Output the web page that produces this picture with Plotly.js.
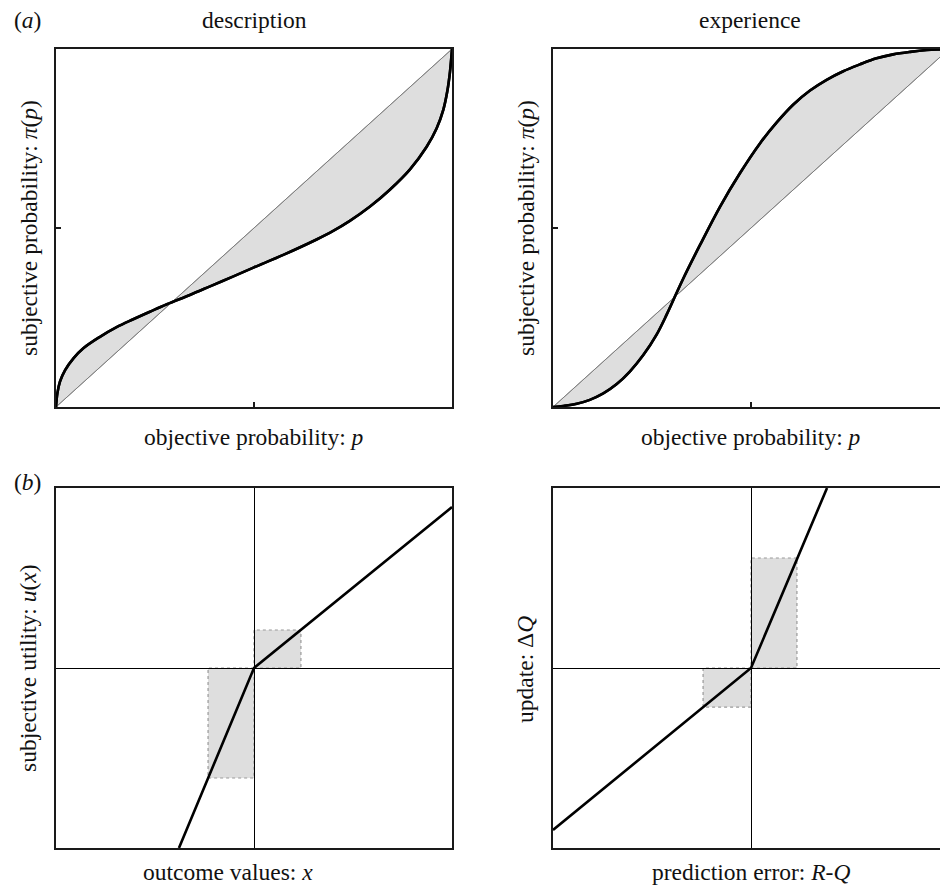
<!DOCTYPE html>
<html>
<head>
<meta charset="utf-8">
<script src="https://cdn.plot.ly/plotly-3.0.1.min.js"></script>
<style>
  html, body { margin: 0; padding: 0; overflow: hidden; background: #fff; }
  #wrap { width: 940px; height: 888px; overflow: hidden; }
  #chart { width: 950px; height: 888px; }
</style>
</head>
<body>
<div id="wrap"><div id="chart"></div></div>
<script>
// ---------- data ----------
const descP = [0, 0.0034, 0.010, 0.023, 0.044, 0.069, 0.111, 0.153, 0.195, 0.237, 0.280, 0.338, 0.389, 0.448, 0.5, 0.574, 0.658, 0.700, 0.742, 0.793, 0.843, 0.894, 0.936, 0.961, 0.978, 0.988, 0.995, 1.0];
const descQ = [0, 0.038, 0.071, 0.103, 0.136, 0.164, 0.196, 0.223, 0.245, 0.266, 0.287, 0.313, 0.337, 0.365, 0.390, 0.425, 0.468, 0.492, 0.520, 0.560, 0.607, 0.664, 0.727, 0.778, 0.830, 0.881, 0.937, 1.0];

const expP = [0, 0.026, 0.060, 0.093, 0.127, 0.161, 0.194, 0.228, 0.262, 0.287, 0.304, 0.329, 0.371, 0.422, 0.472, 0.523, 0.565, 0.607, 0.649, 0.691, 0.733, 0.775, 0.817, 0.859, 0.902, 0.944, 0.977, 1.0];
const expQ = [0, 0.003, 0.009, 0.020, 0.038, 0.064, 0.099, 0.145, 0.203, 0.258, 0.299, 0.359, 0.452, 0.560, 0.653, 0.737, 0.795, 0.845, 0.884, 0.914, 0.938, 0.957, 0.974, 0.985, 0.992, 0.997, 0.999, 1.0];

const diagX = [0, 1];
const diagY = [0, 1];

const utilX = [-0.379, 0, 1];
const utilY = [-1, 0, 0.894];
const utilBoxX = [-0.232, 0.237];   // loss box, gain box (outer x corner)
const utilBoxY = [-0.611, 0.211];   // loss box, gain box (outer y corner)

const updX = [-1, 0, 0.384];
const updY = [-0.9, 0, 1];
const updBoxX = [-0.242, 0.232];
const updBoxY = [-0.217, 0.611];

const probTick = [0.5];

const panelTitles = ['description', 'experience'];
const panelLetters = ['(<i>a</i>)', '(<i>b</i>)'];
const xTitles = ['objective probability: <i>p</i>', 'objective probability: <i>p</i>', 'outcome values: <i>x</i>', 'prediction error: <i>R</i>-<i>Q</i>'];
const yTitles = ['subjective probability: <i>π</i>(<i>p</i>)', 'subjective probability: <i>π</i>(<i>p</i>)', 'subjective utility: <i>u</i>(<i>x</i>)', 'update: Δ<i>Q</i>'];

// ---------- layout helpers ----------
const W = 950, H = 888;
const px = v => v / W;
const py = v => 1 - v / H;

const FONT = 'Liberation Serif, Times New Roman, serif';
const FS = 23.5;
const FRAME = '#1a1a1a';
const FILL = '#dedede';

function probAxis(domain, anchor) {
  return {
    domain: domain, anchor: anchor, range: [0, 1],
    showline: true, mirror: true, linecolor: FRAME, linewidth: 2,
    ticks: 'inside', tickvals: probTick, ticklen: 5, tickwidth: 1.5, tickcolor: FRAME,
    showticklabels: false, showgrid: false, zeroline: false, fixedrange: true
  };
}
function valAxis(domain, anchor) {
  return {
    domain: domain, anchor: anchor, range: [-1, 1],
    showline: true, mirror: true, linecolor: FRAME, linewidth: 2,
    ticks: '', showticklabels: false, showgrid: false,
    zeroline: true, zerolinecolor: '#000', zerolinewidth: 1, fixedrange: true
  };
}

const xL = [px(56), px(452)], xR = [px(553), px(949)];
const yT = [py(407), py(49)], yB = [py(848), py(488)];

const traces = [];
function probPanel(xa, ya, P, Q) {
  traces.push({ x: diagX, y: diagY, xaxis: xa, yaxis: ya, mode: 'lines',
    line: { color: '#777', width: 0.8 }, hoverinfo: 'skip', showlegend: false });
  traces.push({ x: P, y: Q, xaxis: xa, yaxis: ya, mode: 'lines', fill: 'tonexty', fillcolor: FILL,
    line: { color: '#000', width: 2.6, shape: 'spline', smoothing: 1 }, showlegend: false });
  traces.push({ x: diagX, y: diagY, xaxis: xa, yaxis: ya, mode: 'lines',
    line: { color: '#777', width: 0.8 }, hoverinfo: 'skip', showlegend: false });
  traces.push({ x: P, y: Q, xaxis: xa, yaxis: ya, mode: 'lines',
    line: { color: '#000', width: 2.6, shape: 'spline', smoothing: 1 }, showlegend: false });
}
probPanel('x', 'y', descP, descQ);
probPanel('x2', 'y2', expP, expQ);

traces.push({ x: utilX, y: utilY, xaxis: 'x3', yaxis: 'y3', mode: 'lines',
  line: { color: '#000', width: 2.6 }, showlegend: false });
traces.push({ x: updX, y: updY, xaxis: 'x4', yaxis: 'y4', mode: 'lines',
  line: { color: '#000', width: 2.6 }, showlegend: false });

const shapes = [];
function boxes(xr, yr, bx, by) {
  for (let i = 0; i < bx.length; i++) {
    shapes.push({ type: 'rect', xref: xr, yref: yr, layer: 'below',
      x0: 0, y0: 0, x1: bx[i], y1: by[i],
      fillcolor: FILL, line: { color: '#999', width: 1.2, dash: 'dot' } });
  }
}
boxes('x3', 'y3', utilBoxX, utilBoxY);
boxes('x4', 'y4', updBoxX, updBoxY);

const ann = [];
function txt(text, x, y, opts) {
  ann.push(Object.assign({ text: text, xref: 'paper', yref: 'paper', x: px(x), y: py(y),
    xanchor: 'center', yanchor: 'middle', showarrow: false,
    font: { family: FONT, size: FS, color: '#111' } }, opts || {}));
}
txt(panelLetters[0], 12, 20, { xanchor: 'left' });
txt(panelLetters[1], 12, 482, { xanchor: 'left' });
txt(panelTitles[0], 254, 20);
txt(panelTitles[1], 750, 20);
txt(xTitles[0], 254, 437);
txt(xTitles[1], 751, 437);
txt(xTitles[2], 228, 872);
txt(xTitles[3], 751, 872);
txt(yTitles[0], 29, 228, { textangle: -90 });
txt(yTitles[1], 526, 228, { textangle: -90 });
txt(yTitles[2], 28, 668, { textangle: -90 });
txt(yTitles[3], 525, 670, { textangle: -90 });

const layout = {
  width: W, height: H,
  margin: { l: 0, r: 0, t: 0, b: 0, pad: 0 },
  paper_bgcolor: '#fff', plot_bgcolor: '#fff',
  showlegend: false,
  font: { family: FONT, size: FS, color: '#111' },
  xaxis: probAxis(xL, 'y'), yaxis: probAxis(yT, 'x'),
  xaxis2: probAxis(xR, 'y2'), yaxis2: probAxis(yT, 'x2'),
  xaxis3: valAxis(xL, 'y3'), yaxis3: valAxis(yB, 'x3'),
  xaxis4: valAxis(xR, 'y4'), yaxis4: valAxis(yB, 'x4'),
  shapes: shapes,
  annotations: ann
};

Plotly.newPlot('chart', traces, layout, { staticPlot: true, displayModeBar: false });
</script>
</body>
</html>
